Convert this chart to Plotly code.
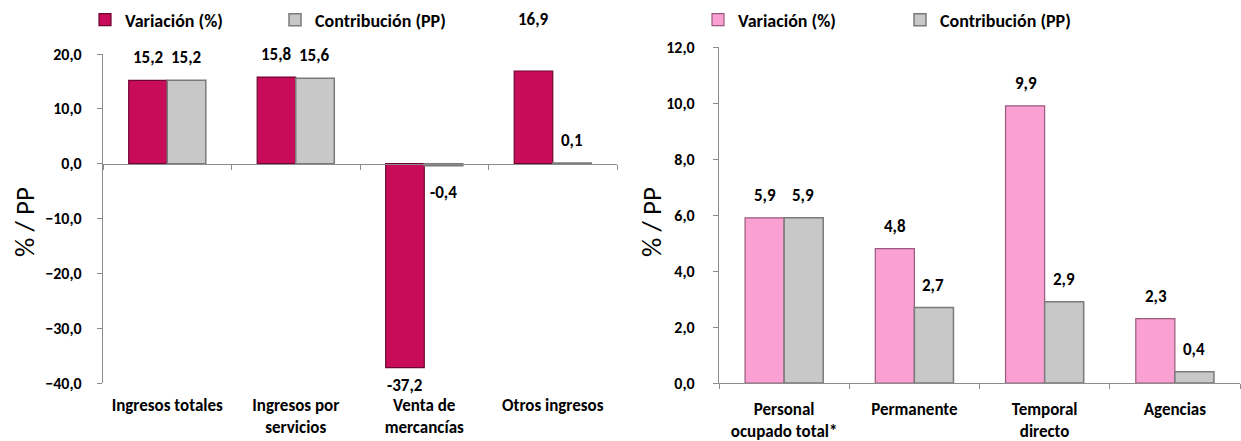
import plotly.graph_objects as go

# ---------------- data ----------------
cats_left = ["Ingresos totales", "Ingresos por<br>servicios", "Venta de<br>mercancías", "Otros ingresos"]
var_left = [15.2, 15.8, -37.2, 16.9]
con_left = [15.2, 15.6, -0.4, 0.1]

cats_right = ["Personal<br>ocupado total*", "Permanente", "Temporal<br>directo", "Agencias"]
var_right = [5.9, 4.8, 9.9, 2.3]
con_right = [5.9, 2.7, 2.9, 0.4]

left_ticks = [20, 10, 0, -10, -20, -30, -40]
right_ticks = [12, 10, 8, 6, 4, 2, 0]

name_var = "Variación (%)"
name_con = "Contribución (PP)"

# ---------------- style ----------------
FONT = "Carlito, Lato, 'Open Sans', sans-serif"
C_VAR_L = "#C80C5A"
C_VAR_L_LINE = "#6E0530"
C_VAR_R = "#FAA0D2"
C_VAR_R_LINE = "#9A5A7C"
C_CON = "#C8C8C8"
C_CON_LINE = "#7A7A7A"
AX = "#8C8C8C"

W, H = 1241, 441
ydom_l = [(H - 383) / H, (H - 54) / H]
ydom_r = [(H - 383) / H, (H - 47) / H]
xdom_l = [103 / W, 617 / W]
xdom_r = [719 / W, 1240 / W]

fig = go.Figure()

fig.add_trace(go.Bar(x=cats_left, y=var_left, name=name_var, xaxis="x", yaxis="y",
                     marker=dict(color=C_VAR_L, line=dict(color=C_VAR_L_LINE, width=1.2)),
                     legend="legend", hoverinfo="skip"))
fig.add_trace(go.Bar(x=cats_left, y=con_left, name=name_con, xaxis="x", yaxis="y",
                     marker=dict(color=C_CON, line=dict(color=C_CON_LINE, width=1.5)),
                     legend="legend", hoverinfo="skip"))
# invisible trace for the zero-line axis of the left chart
fig.add_trace(go.Scatter(x=[-0.5, 3.5], y=[0, 0], xaxis="x3", yaxis="y", mode="lines",
                         line=dict(width=0), showlegend=False, hoverinfo="skip"))

fig.add_trace(go.Bar(x=cats_right, y=var_right, name=name_var, xaxis="x2", yaxis="y2",
                     marker=dict(color=C_VAR_R, line=dict(color=C_VAR_R_LINE, width=1.2)),
                     legend="legend2", hoverinfo="skip"))
fig.add_trace(go.Bar(x=cats_right, y=con_right, name=name_con, xaxis="x2", yaxis="y2",
                     marker=dict(color=C_CON, line=dict(color=C_CON_LINE, width=1.5)),
                     legend="legend2", hoverinfo="skip"))

def fmt(v):
    return f"{v:.1f}".replace(".", ",")

annotations = []
label_font = dict(family=FONT, size=17, color="#000000", weight="bold")
# left labels
special_shift = {("var", 3): 52, ("var", 2): -18}
for i, (c, v) in enumerate(zip(cats_left, var_left)):
    sh = special_shift.get(("var", i), 23 if v >= 0 else -27)
    annotations.append(dict(x=c, y=v, xref="x", yref="y", text=fmt(v),
                            showarrow=False, xshift=-19, yshift=sh, font=label_font))
for i, (c, v) in enumerate(zip(cats_left, con_left)):
    sh = 23 if v >= 0 else -27
    annotations.append(dict(x=c, y=v, xref="x", yref="y", text=fmt(v),
                            showarrow=False, xshift=19, yshift=sh, font=label_font))
for c, v in zip(cats_right, var_right):
    annotations.append(dict(x=c, y=v, xref="x2", yref="y2", text=fmt(v),
                            showarrow=False, xshift=-19, yshift=22, font=label_font))
for c, v in zip(cats_right, con_right):
    annotations.append(dict(x=c, y=v, xref="x2", yref="y2", text=fmt(v),
                            showarrow=False, xshift=19, yshift=22, font=label_font))

# y-axis titles
for xpos, txt in [(24 / W, "% / PP"), (651 / W, "% / PP")]:
    annotations.append(dict(x=xpos, y=(H - 222) / H, xref="paper", yref="paper", text=txt,
                            showarrow=False, textangle=-90, xanchor="center", yanchor="middle",
                            font=dict(family=FONT, size=27, color="#000000")))

tickfont = dict(family=FONT, size=16, color="#000000", weight="bold")
xtickfont = dict(family=FONT, size=17, color="#000000", weight="bold")
legfont = dict(family=FONT, size=18, color="#000000", weight="bold")

zero_pos = ydom_l[0] + (0 - (-40)) / (20 - (-40)) * (ydom_l[1] - ydom_l[0])

fig.update_layout(
    width=W, height=H,
    margin=dict(l=0, r=0, t=0, b=0),
    paper_bgcolor="white", plot_bgcolor="white",
    separators=",.",
    barmode="group", bargap=0.4, bargroupgap=0.0,
    font=dict(family=FONT, color="#000000"),
    showlegend=True,
    annotations=annotations,
    xaxis=dict(domain=xdom_l, anchor="y", type="category", showline=False, ticks="",
               tickfont=xtickfont, ticklabelstandoff=10,
               showgrid=False, automargin=False, fixedrange=True),
    xaxis3=dict(overlaying="x", anchor="free", position=zero_pos, range=[-0.5, 3.5],
                tickvals=[-0.5, 0.5, 1.5, 2.5, 3.5], showticklabels=False, ticks="outside",
                ticklen=5, tickcolor=AX, showline=True, linecolor=AX, linewidth=1.3,
                showgrid=False, zeroline=False, automargin=False, fixedrange=True),
    yaxis=dict(domain=ydom_l, anchor="x", range=[-40, 20], tickvals=left_ticks,
               tickformat=".1f", tickfont=tickfont,
               ticks="outside", ticklen=5, tickcolor=AX, showline=True, linecolor=AX,
               linewidth=1.3, showgrid=False, zeroline=False, ticklabelstandoff=12,
               automargin=False, fixedrange=True),
    xaxis2=dict(domain=xdom_r, anchor="y2", type="category", showline=True, linecolor=AX,
                linewidth=1.3, ticks="outside", tickson="boundaries", ticklen=5, tickcolor=AX,
                tickfont=xtickfont, ticklabelstandoff=10,
                showgrid=False, automargin=False, fixedrange=True),
    yaxis2=dict(domain=ydom_r, anchor="x2", range=[0, 12], tickvals=right_ticks,
                tickformat=".1f", tickfont=tickfont,
                ticks="outside", ticklen=5, tickcolor=AX, showline=True, linecolor=AX,
                linewidth=1.3, showgrid=False, zeroline=False, ticklabelstandoff=15,
                automargin=False, fixedrange=True),
    legend=dict(orientation="h", x=85 / W, y=1 - 20 / H, xanchor="left", yanchor="middle",
                entrywidth=145, entrywidthmode="pixels", itemwidth=30,
                font=legfont, bgcolor="rgba(0,0,0,0)", traceorder="normal"),
    legend2=dict(orientation="h", x=698 / W, y=1 - 20 / H, xanchor="left", yanchor="middle",
                 entrywidth=157, entrywidthmode="pixels", itemwidth=30,
                 font=legfont, bgcolor="rgba(0,0,0,0)", traceorder="normal"),
)

fig.write_html("out.html", config={"displayModeBar": False},
               post_script="document.body.style.margin='0px';")
